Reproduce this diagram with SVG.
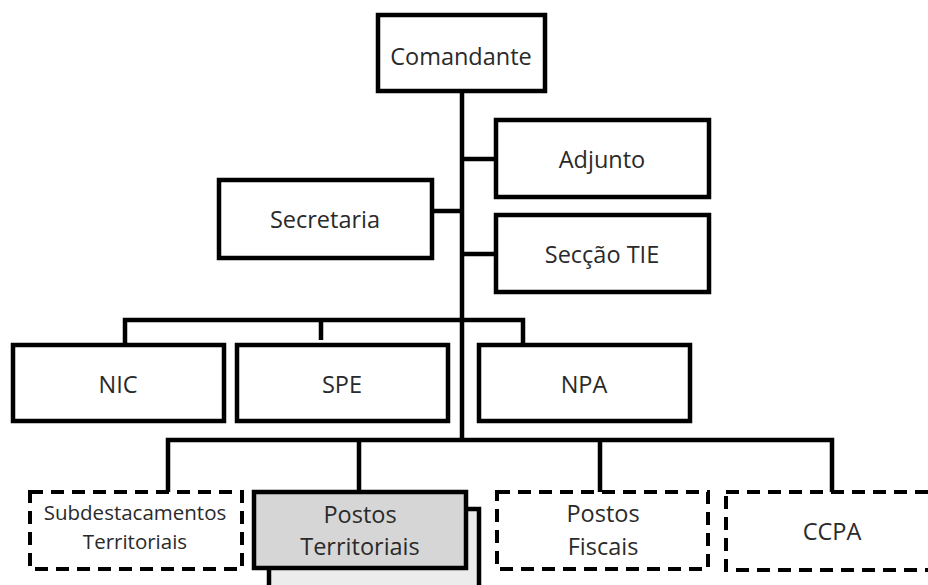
<svg xmlns="http://www.w3.org/2000/svg" width="928" height="585" viewBox="0 0 928 585">
<style>
.box{fill:#fff;stroke:#000;stroke-width:4.5}
.dash{fill:#fff;stroke:#000;stroke-width:4;stroke-dasharray:13 8}
.gray{fill:#d6d6d6;stroke:#000;stroke-width:4.5}
.shadow{fill:#ececec;stroke:#000;stroke-width:4.5}
.ln{fill:none;stroke:#000;stroke-width:4.5}
text{font-family:"Open Sans","Liberation Sans",sans-serif;font-size:23.5px;fill:#2a2a2a;text-anchor:middle}
.sm{font-size:20.5px}
</style>
<rect width="928" height="585" fill="#fff"/>
<g id="connectors">
<path class="ln" d="M462 91V440"/>
<path class="ln" d="M462 159H496M462 254H496M432 211H462"/>
<path class="ln" d="M125 345V320H523V345M321 320V340"/>
<path class="ln" d="M168 492V440H832V492M359 440V492M600 440V492"/>
</g>
<g id="comandante"><rect class="box" x="378" y="15" width="167" height="76"/><text x="461" y="65">Comandante</text></g>
<g id="adjunto"><rect class="box" x="496" y="120" width="213" height="77"/><text x="602" y="168">Adjunto</text></g>
<g id="secretaria"><rect class="box" x="219" y="180" width="213" height="78"/><text x="325" y="228">Secretaria</text></g>
<g id="seccao"><rect class="box" x="496" y="215" width="213" height="77"/><text x="602" y="263">Secção TIE</text></g>
<g id="nic"><rect class="box" x="13" y="345" width="211" height="76"/><text x="118" y="393">NIC</text></g>
<g id="spe"><rect class="box" x="237" y="345" width="211" height="76"/><text x="342" y="393">SPE</text></g>
<g id="npa"><rect class="box" x="479" y="345" width="211" height="76"/><text x="584" y="393">NPA</text></g>
<g id="subdestacamentos"><rect class="dash" x="30" y="492" width="212" height="77"/><text class="sm" x="135" y="520">Subdestacamentos</text><text class="sm" x="135" y="549">Territoriais</text></g>
<g id="postos-territoriais"><rect class="shadow" x="269" y="509" width="210" height="90"/><rect class="gray" x="254" y="492" width="212" height="76"/><text x="360" y="523">Postos</text><text x="360" y="555">Territoriais</text></g>
<g id="postos-fiscais"><rect class="dash" x="497" y="492" width="211" height="77"/><text x="603" y="522">Postos</text><text x="603" y="555">Fiscais</text></g>
<g id="ccpa"><rect class="dash" x="726" y="492" width="214" height="78"/><text x="832" y="540">CCPA</text></g>
</svg>
